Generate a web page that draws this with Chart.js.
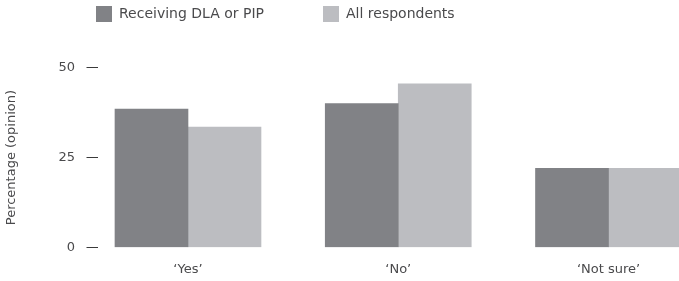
<!DOCTYPE html>
<html>
<head>
<meta charset="utf-8">
<script src="https://cdn.jsdelivr.net/npm/chart.js@4/dist/chart.umd.min.js"></script>
<style>
  html, body { margin: 0; padding: 0; background: #ffffff; overflow: hidden; }
  #wrap { width: 679px; height: 281px; }
</style>
</head>
<body>
<div id="wrap"><canvas id="c" width="679" height="281"></canvas></div>
<script>
// ---- data ----
const categories = ["\u2018Yes\u2019", "\u2018No\u2019", "\u2018Not sure\u2019"];
const seriesNames = ["Receiving DLA or PIP", "All respondents"];
const receivingDlaPip = [38.5, 40, 22];
const allRespondents = [33.5, 45.5, 22];
const yTickValues = [0, 25, 50];

const FONT = "'DejaVu Sans', 'Open Sans', sans-serif";
const TEXT = "#4a4a4c";
const DARK = "#818286";
const LIGHT = "#bcbdc1";
const LEGEND_GAP = 59;

const legendTweak = {
  id: 'legendTweak',
  beforeLayout(chart) {
    const lg = chart.legend;
    if (lg && !lg._tweaked) {
      const orig = lg.fit;
      lg.fit = function () { orig.call(this); this.height = 67.7; };
      lg._tweaked = true;
    }
  },
  afterLayout(chart) {
    const lg = chart.legend;
    lg.left = 96 - LEGEND_GAP;
    lg.top = 6 - LEGEND_GAP;
  }
};

new Chart(document.getElementById('c'), {
  type: 'bar',
  data: {
    datasets: [
      { label: seriesNames[0], data: categories.map((c, i) => ({ x: i, y: receivingDlaPip[i] })), backgroundColor: DARK, borderWidth: 0 },
      { label: seriesNames[1], data: categories.map((c, i) => ({ x: i, y: allRespondents[i] })), backgroundColor: LIGHT, borderWidth: 0 }
    ]
  },
  options: {
    responsive: false,
    animation: false,
    devicePixelRatio: 1,
    layout: { padding: 0 },
    datasets: { bar: { barThickness: 73, grouped: true } },
    plugins: {
      tooltip: { enabled: false },
      legend: {
        position: 'top',
        align: 'start',
        labels: {
          boxWidth: 16, boxHeight: 16, padding: LEGEND_GAP,
          color: TEXT, font: { family: FONT, size: 14 }
        }
      }
    },
    scales: {
      x: {
        type: 'linear',
        offset: false,
        min: -0.4304,
        max: 2.3353,
        grid: { display: false, offset: false },
        border: { display: false },
        afterBuildTicks(scale) { scale.ticks = categories.map((c, i) => ({ value: i })); },
        afterFit(scale) { scale.height = 33.5; },
        ticks: {
          padding: 6,
          color: TEXT,
          font: { family: FONT, size: 13 },
          callback: (v) => categories[v] ?? ''
        }
      },
      y: {
        min: 0,
        max: 50,
        afterBuildTicks(scale) { scale.ticks = yTickValues.map(v => ({ value: v })); },
        afterFit(scale) { scale.width = 97.5; },
        grid: { display: true, drawOnChartArea: false, drawTicks: true, tickLength: 11, tickColor: '#3a3a3a', tickWidth: 1 },
        border: { display: false },
        ticks: { padding: 11.5, color: TEXT, font: { family: FONT, size: 13 } },
        title: {
          display: true,
          text: 'Percentage (opinion)',
          color: TEXT,
          font: { family: FONT, size: 13 },
          padding: { top: 4, bottom: 0 }
        }
      }
    }
  },
  plugins: [legendTweak]
});
</script>
</body>
</html>
